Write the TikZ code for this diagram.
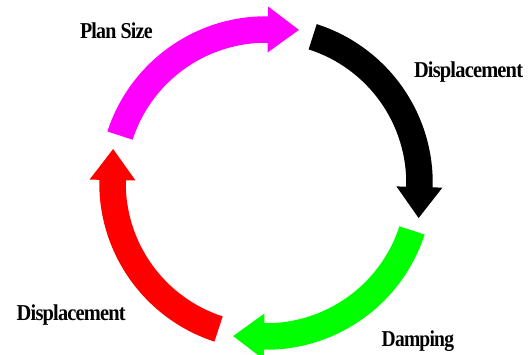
\documentclass[tikz,border=0pt]{standalone}
\usepackage{fontspec}
\setmainfont{Liberation Serif}
\usetikzlibrary{calc}
\definecolor{cycmag}{RGB}{255,0,255}
\definecolor{cycgreen}{RGB}{0,255,0}
\definecolor{cycred}{RGB}{255,0,0}
\newcommand{\ringR}{153.5}
\newcommand{\ringRo}{166.75}
\newcommand{\ringRi}{140.25}
% curved block arrow running clockwise from angle #2 to angle #3
\newcommand{\cyclearrow}[3]{%
  \fill[#1] ($(C)+(#2:\ringRo)$)
    arc[start angle=#2, end angle=#3, radius=\ringRo]
    -- ($(C)+(#3:\ringR+23)$)
    -- ($(C)+(#3:\ringR)+(#3-90:31)$)
    -- ($(C)+(#3:\ringR-23)$)
    -- ($(C)+(#3:\ringRi)$)
    arc[start angle=#3, end angle=#2, radius=\ringRi]
    -- cycle;}
% tight, slightly condensed bold label text
\newcommand{\tightlbl}[2]{\scalebox{#1}[1]{\addfontfeature{LetterSpace=-4}#2}}
\tikzset{
  lbl/.style={anchor=base west, inner sep=0pt, outer sep=0pt,
    font=\fontsize{22.7}{24}\selectfont\bfseries},
}
\begin{document}
\begin{tikzpicture}[x=1pt,y=1pt]
  \useasboundingbox (0,0) rectangle (528,354);
  \coordinate (C) at (266,171);
  \cyclearrow{cycmag}{162}{89.3}
  \cyclearrow{black}{72.3}{-1.5}
  \cyclearrow{cycgreen}{-18}{-90.7}
  \cyclearrow{cycred}{-108}{-181.1}
  \node[lbl] (plan) at (80,315.7) {\tightlbl{0.88}{Plan Size}};
  \node[lbl] (disp1) at (414,276.7) {\tightlbl{0.9}{Displacement}};
  \node[lbl] (damp) at (381.7,8) {\tightlbl{0.86}{Damping}};
  \node[lbl] (disp2) at (16.7,34) {\tightlbl{0.9}{Displacement}};
\end{tikzpicture}
\end{document}
